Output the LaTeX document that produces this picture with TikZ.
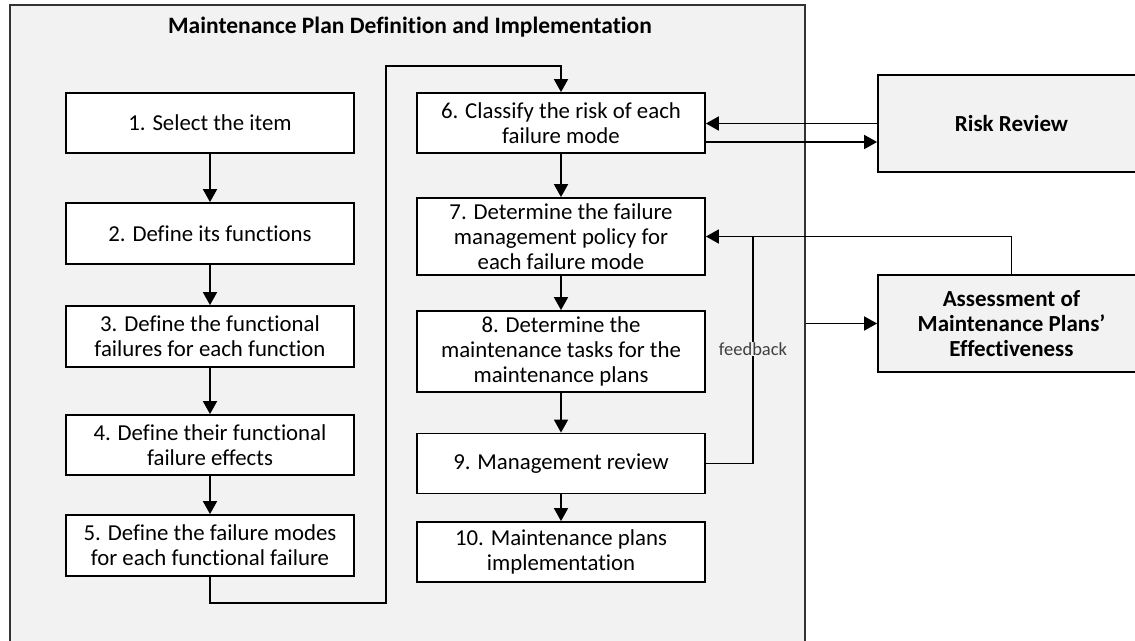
\documentclass[tikz,border=0pt]{standalone}
\usepackage{fontspec}
\setmainfont{Carlito}[Ligatures=NoCommon]
\usetikzlibrary{arrows.meta}
\definecolor{panel}{HTML}{F2F2F2}
\definecolor{fbtext}{HTML}{404040}
\tikzset{
  stepbox/.style={draw=black, line width=1.8pt, fill=white, minimum width=288pt, align=center, inner sep=1pt, font=\fontsize{22.8}{25.3}\selectfont},
  sidebox/.style={draw=black, line width=1.8pt, fill=panel, minimum width=267pt, minimum height=97pt, align=center, inner sep=1pt, font=\fontsize{23}{25.3}\selectfont\bfseries},
  conn/.style={line width=1.8pt, draw=black},
  arr/.style={conn, -{Triangle[length=13pt,width=14pt]}}
}
\begin{document}
\begin{tikzpicture}[x=1pt,y=-1pt]
\useasboundingbox (0,0) rectangle (1135,640);
\node[draw=black!80, line width=1.4pt, fill=panel, minimum width=795pt, minimum height=645pt, inner sep=0pt] (outer) at (407.5,327.5) {};
\node[font=\fontsize{23.5}{26}\selectfont\bfseries] (title) at (410,27) {Maintenance Plan Definition and Implementation};

\node[sidebox] (risk) at (1011.5,123.5) {Risk Review};
\node[sidebox] (as) at (1011.5,323.5) {Assessment of\\Maintenance Plans’\\Effectiveness};

\node[stepbox, minimum height=60pt] (b1) at (210,123) {1. Select the item};
\node[stepbox, minimum height=61pt] (b2) at (210,233.5) {2. Define its functions};
\node[stepbox, minimum height=61pt] (b3) at (210,336.5) {3. Define the functional\\failures for each function};
\node[stepbox, minimum height=60pt] (b4) at (210,445) {4. Define their functional\\failure effects};
\node[stepbox, minimum height=61pt] (b5) at (210,545.5) {5. Define the failure modes\\for each functional failure};

\node[stepbox, minimum height=60pt] (b6) at (561,123) {6. Classify the risk of each\\failure mode};
\node[stepbox, minimum height=77pt] (b7) at (561,236.5) {7. Determine the failure\\management policy for\\each failure mode};
\node[stepbox, minimum height=81pt] (b8) at (561,351.5) {8. Determine the\\maintenance tasks for the\\maintenance plans};
\node[stepbox, minimum height=60pt] (b9) at (561,463.5) {9. Management review};
\node[stepbox, minimum height=60pt] (b10) at (561,552) {10. Maintenance plans\\implementation};

\coordinate (lb) at (386,603);
\coordinate (lt) at (386,66);
\coordinate (fb) at (753,237);

\draw[arr] (b1) -- (b2);
\draw[arr] (b2) -- (b3);
\draw[arr] (b3) -- (b4);
\draw[arr] (b4) -- (b5);
\draw[arr] (b5.south) |- (lb) -- (lt) -| (b6.north);
\draw[arr] (b6) -- (b7);
\draw[arr] (b7) -- (b8);
\draw[arr] (b8) -- (b9);
\draw[arr] (b9) -- (b10);

\draw[arr] (risk.west) -- (risk.west -| b6.east);
\draw[arr] ([yshift=-19pt]b6.east) -- ([yshift=-19pt]b6.east -| risk.west);
\draw[arr] (as.north) |- (b7.east);
\draw[conn] (b9.east) -| (fb);
\node[fill=panel, inner sep=1pt, text=fbtext, font=\fontsize{18.5}{20}\selectfont] (fbl) at (753,349) {feedback};
\draw[arr] (outer.east |- as.west) -- (as.west);
\end{tikzpicture}
\end{document}
